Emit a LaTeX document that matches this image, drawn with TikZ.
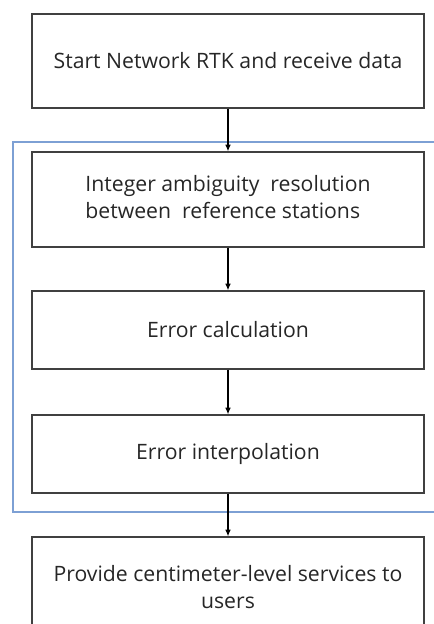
\documentclass[tikz,border=0pt]{standalone}
\usepackage{fontspec}
\setmainfont{Open Sans}
\usetikzlibrary{arrows.meta,positioning}
\definecolor{boxline}{RGB}{64,64,64}
\definecolor{framecolor}{RGB}{125,160,212}
\definecolor{textgray}{RGB}{38,38,38}
\tikzset{
  flowchart/.style={x=0.75pt,y=-0.75pt,font=\fontsize{15.9}{20}\selectfont,>={Latex[length=5pt,width=4.2pt]}},
  stepbox/.style={draw=boxline,line width=0.9pt,minimum width=294pt,align=center,text=textgray,inner sep=0pt},
  flow/.style={->,line width=0.9pt,draw=black},
  frame/.style={draw=framecolor,line width=0.8pt},
}

\begin{document}
\begin{tikzpicture}[flowchart]
\clip (0,0) rectangle (434,624);
% processing stage
\draw[frame] (13,142) rectangle (450,512);
\node[stepbox,minimum height=70.5pt] (start) at (228,61) {Start Network RTK and receive data};
\node[stepbox,minimum height=71.25pt] (ambig) at (228,199.5) {\begin{tabular}{@{}l@{}}Integer ambiguity\ \ resolution\\between\ \ reference stations\end{tabular}};
\node[stepbox,minimum height=58.5pt] (calc) at (228,330) {Error calculation};
\node[stepbox,minimum height=58.5pt] (interp) at (228,454) {Error interpolation};
\node[stepbox,minimum height=75pt] (serve) at (228,587) {Provide centimeter-level services to\\users};
\draw[flow] (start) -- (ambig);
\draw[flow] (ambig) -- (calc);
\draw[flow] (calc) -- (interp);
\draw[flow] (interp) -- (serve);
\end{tikzpicture}
\end{document}
